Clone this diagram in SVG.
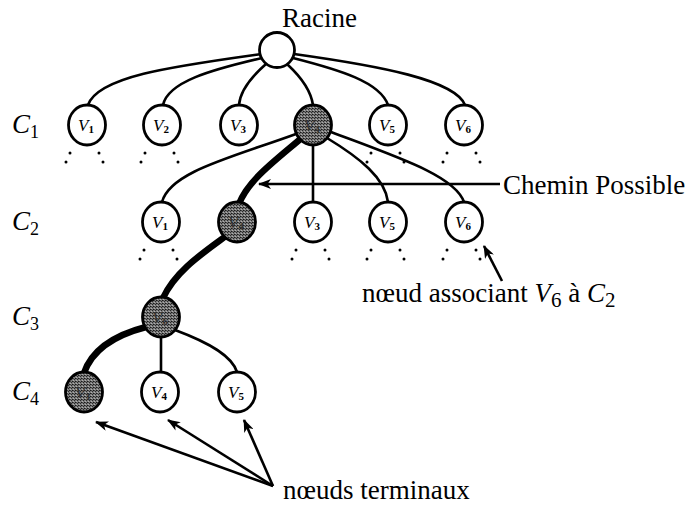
<svg xmlns="http://www.w3.org/2000/svg" width="697" height="505" viewBox="0 0 697 505">
<style>
.edge{fill:none;stroke:#000;stroke-width:2.6;stroke-linecap:round}
.thick{fill:none;stroke:#000;stroke-width:6.5;stroke-linecap:round}
.arr{fill:none;stroke:#000;stroke-width:2.6}
.node{fill:#fff;stroke:#000;stroke-width:2.8}
.sh{fill:url(#stip);stroke:#000;stroke-width:2.8}
.lbl{font-family:"Liberation Serif",serif;font-style:italic;font-size:17px;fill:#000}
.lbls{font-family:"Liberation Serif",serif;font-style:italic;font-size:17px;fill:#333}
.sub{font-style:normal;font-size:11px;font-weight:bold}
.txt{font-family:"Liberation Serif",serif;font-size:27px;fill:#000}
.it{font-style:italic}
.dot{fill:#000}
</style>
<defs>
<pattern id="stip" width="3" height="3" patternUnits="userSpaceOnUse">
<rect width="3" height="3" fill="#7a7a7a"/>
<rect x="0" y="0" width="1" height="1" fill="#1a1a1a"/>
<rect x="2" y="1" width="1" height="1" fill="#2a2a2a"/>
<rect x="1" y="2" width="1" height="1" fill="#b0b0b0"/>
<rect x="1" y="0" width="1" height="1" fill="#444"/>
</pattern>
<marker id="ah" viewBox="0 0 13 10" refX="12" refY="5" markerWidth="13" markerHeight="10" markerUnits="userSpaceOnUse" orient="auto">
<path d="M0,0 L13,5 L0,10 L3.5,5 Z" fill="#000"/>
</marker>
</defs>
<g id="connectors">
<path class="edge" d="M261 54 C175 66 98 76 88 105"/>
<path class="edge" d="M262 58 C210 70 168 82 163 105"/>
<path class="edge" d="M266 64 C250 78 240 92 239 105"/>
<path class="edge" d="M288 65 C302 78 311 92 313 105"/>
<path class="edge" d="M293 58 C340 70 380 82 388 105"/>
<path class="edge" d="M294 54 C380 66 455 80 465 105"/>
<path class="edge" d="M296 134 C230 158 170 172 162 202"/>
<path class="edge" d="M313 145 L313 202"/>
<path class="edge" d="M327 138 C360 158 385 178 388 202"/>
<path class="edge" d="M331 132 C400 158 455 176 464 202"/>
<path class="edge" d="M161 337 L161 372"/>
<path class="edge" d="M175 330 C210 343 232 356 237 372"/>
<path class="thick" d="M304 136 C276 160 248 180 239 204"/>
<path class="thick" d="M226 236 C200 255 175 272 163 298"/>
<path class="thick" d="M146 327 C115 335 92 350 84 373"/>
<path class="arr" d="M500 184 L259 184" marker-end="url(#ah)"/>
<path class="arr" d="M502 281 L484 246" marker-end="url(#ah)"/>
<path class="arr" d="M273 486 L96 422" marker-end="url(#ah)"/>
<path class="arr" d="M273 486 L168 420" marker-end="url(#ah)"/>
<path class="arr" d="M273 486 L244 420" marker-end="url(#ah)"/>
</g>
<g id="root"><circle class="node" cx="277" cy="50" r="17.5"/></g>
<g id="c1-v1"><ellipse class="node" cx="87" cy="125" rx="18.5" ry="20"/><text class="lbl" x="86" y="131" text-anchor="middle">V<tspan class="sub" dy="2">1</tspan></text></g>
<g id="c1-v2"><ellipse class="node" cx="162" cy="125" rx="18.5" ry="20"/><text class="lbl" x="161" y="131" text-anchor="middle">V<tspan class="sub" dy="2">2</tspan></text></g>
<g id="c1-v3"><ellipse class="node" cx="239" cy="125" rx="18.5" ry="20"/><text class="lbl" x="238" y="131" text-anchor="middle">V<tspan class="sub" dy="2">3</tspan></text></g>
<g id="c1-v4"><ellipse class="sh" cx="313" cy="125" rx="18.5" ry="20"/><text class="lbls" x="312" y="131" text-anchor="middle">V<tspan class="sub" dy="2">4</tspan></text></g>
<g id="c1-v5"><ellipse class="node" cx="388" cy="125" rx="18.5" ry="20"/><text class="lbl" x="387" y="131" text-anchor="middle">V<tspan class="sub" dy="2">5</tspan></text></g>
<g id="c1-v6"><ellipse class="node" cx="464" cy="125" rx="18.5" ry="20"/><text class="lbl" x="463" y="131" text-anchor="middle">V<tspan class="sub" dy="2">6</tspan></text></g>
<g id="c2-v1"><ellipse class="node" cx="161" cy="222" rx="18.5" ry="20"/><text class="lbl" x="160" y="228" text-anchor="middle">V<tspan class="sub" dy="2">1</tspan></text></g>
<g id="c2-v4"><ellipse class="sh" cx="237" cy="222" rx="18.5" ry="20"/><text class="lbls" x="236" y="228" text-anchor="middle">V<tspan class="sub" dy="2">4</tspan></text></g>
<g id="c2-v3"><ellipse class="node" cx="313" cy="222" rx="18.5" ry="20"/><text class="lbl" x="312" y="228" text-anchor="middle">V<tspan class="sub" dy="2">3</tspan></text></g>
<g id="c2-v5"><ellipse class="node" cx="388" cy="222" rx="18.5" ry="20"/><text class="lbl" x="387" y="228" text-anchor="middle">V<tspan class="sub" dy="2">5</tspan></text></g>
<g id="c2-v6"><ellipse class="node" cx="464" cy="222" rx="18.5" ry="20"/><text class="lbl" x="463" y="228" text-anchor="middle">V<tspan class="sub" dy="2">6</tspan></text></g>
<g id="c3-v6"><ellipse class="sh" cx="161" cy="317" rx="18.5" ry="20"/><text class="lbls" x="160" y="323" text-anchor="middle">V<tspan class="sub" dy="2">6</tspan></text></g>
<g id="c4-v1"><ellipse class="sh" cx="84" cy="392" rx="18.5" ry="20"/><text class="lbls" x="83" y="398" text-anchor="middle">V<tspan class="sub" dy="2">1</tspan></text></g>
<g id="c4-v4"><ellipse class="node" cx="160" cy="392" rx="18.5" ry="20"/><text class="lbl" x="159" y="398" text-anchor="middle">V<tspan class="sub" dy="2">4</tspan></text></g>
<g id="c4-v5"><ellipse class="node" cx="237" cy="392" rx="18.5" ry="20"/><text class="lbl" x="236" y="398" text-anchor="middle">V<tspan class="sub" dy="2">5</tspan></text></g>
<g id="dots">
<circle class="dot" cx="70" cy="153" r="1.5"/><circle class="dot" cx="66" cy="162" r="1.5"/><circle class="dot" cx="99" cy="153" r="1.5"/><circle class="dot" cx="103" cy="162" r="1.5"/>
<circle class="dot" cx="145" cy="153" r="1.5"/><circle class="dot" cx="141" cy="162" r="1.5"/><circle class="dot" cx="174" cy="153" r="1.5"/><circle class="dot" cx="178" cy="162" r="1.5"/>
<circle class="dot" cx="371" cy="153" r="1.5"/><circle class="dot" cx="367" cy="162" r="1.5"/><circle class="dot" cx="400" cy="153" r="1.5"/><circle class="dot" cx="404" cy="162" r="1.5"/>
<circle class="dot" cx="447" cy="153" r="1.5"/><circle class="dot" cx="443" cy="162" r="1.5"/><circle class="dot" cx="476" cy="153" r="1.5"/><circle class="dot" cx="480" cy="162" r="1.5"/>
<circle class="dot" cx="144" cy="250" r="1.5"/><circle class="dot" cx="140" cy="259" r="1.5"/><circle class="dot" cx="173" cy="250" r="1.5"/><circle class="dot" cx="177" cy="259" r="1.5"/>
<circle class="dot" cx="296" cy="250" r="1.5"/><circle class="dot" cx="292" cy="259" r="1.5"/><circle class="dot" cx="325" cy="250" r="1.5"/><circle class="dot" cx="329" cy="259" r="1.5"/>
<circle class="dot" cx="371" cy="250" r="1.5"/><circle class="dot" cx="367" cy="259" r="1.5"/><circle class="dot" cx="400" cy="250" r="1.5"/><circle class="dot" cx="404" cy="259" r="1.5"/>
<circle class="dot" cx="447" cy="250" r="1.5"/><circle class="dot" cx="443" cy="259" r="1.5"/><circle class="dot" cx="476" cy="250" r="1.5"/><circle class="dot" cx="480" cy="259" r="1.5"/>
</g>
<g id="labels">
<text class="txt" x="282" y="27">Racine</text>
<text class="txt it" x="12" y="133" font-size="26">C<tspan font-style="normal" font-size="18" dy="5">1</tspan></text>
<text class="txt it" x="12" y="230" font-size="26">C<tspan font-style="normal" font-size="18" dy="5">2</tspan></text>
<text class="txt it" x="12" y="325" font-size="26">C<tspan font-style="normal" font-size="18" dy="5">3</tspan></text>
<text class="txt it" x="12" y="400" font-size="26">C<tspan font-style="normal" font-size="18" dy="5">4</tspan></text>
<text class="txt" x="503" y="194" font-size="26">Chemin Possible</text>
<text class="txt" x="362" y="302" font-size="31">nœud associant <tspan class="it">V</tspan><tspan font-size="21" dy="5">6</tspan><tspan dy="-5"> à </tspan><tspan class="it">C</tspan><tspan font-size="21" dy="5">2</tspan></text>
<text class="txt" x="283" y="499" font-size="30">nœuds terminaux</text>
</g>
</svg>
